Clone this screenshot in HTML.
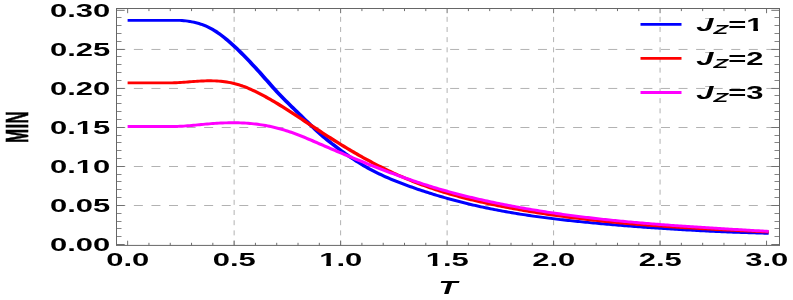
<!DOCTYPE html>
<html><head><meta charset="utf-8"><title>MIN vs T</title>
<style>
html,body{margin:0;padding:0;background:#fff;}
svg{display:block;}
text{font-family:"Liberation Sans",sans-serif;font-weight:bold;fill:#000;font-kerning:none;}
</style></head><body>
<svg width="793" height="300" viewBox="0 0 793 300">
<rect x="0" y="0" width="793" height="300" fill="#ffffff"/>
<g stroke="#b2b2b2" stroke-width="1" fill="none">
<line x1="116.3" y1="205.50" x2="779.5" y2="205.50" stroke-dasharray="9 8.57"/>
<line x1="116.3" y1="166.50" x2="779.5" y2="166.50" stroke-dasharray="9 8.57"/>
<line x1="116.3" y1="127.50" x2="779.5" y2="127.50" stroke-dasharray="9 8.57"/>
<line x1="116.3" y1="88.45" x2="779.5" y2="88.45" stroke-dasharray="9 8.57"/>
<line x1="116.3" y1="49.45" x2="779.5" y2="49.45" stroke-dasharray="9 8.57"/>
<line x1="234.13" y1="16.8" x2="234.13" y2="245.4" stroke-dasharray="5 5.17"/>
<line x1="340.62" y1="16.8" x2="340.62" y2="245.4" stroke-dasharray="5 5.17"/>
<line x1="447.11" y1="16.8" x2="447.11" y2="245.4" stroke-dasharray="5 5.17"/>
<line x1="553.59" y1="16.8" x2="553.59" y2="245.4" stroke-dasharray="5 5.17"/>
<line x1="660.07" y1="16.8" x2="660.07" y2="245.4" stroke-dasharray="5 5.17"/>
</g>
<g transform="scale(1.5,1)" fill="none" stroke-width="2.9" stroke-linejoin="round">
<path stroke="#0000ff" d="M85.07,20.40 L86.36,20.40 L87.66,20.40 L88.95,20.40 L90.24,20.40 L91.54,20.40 L92.83,20.40 L94.13,20.40 L95.42,20.40 L96.72,20.40 L98.01,20.40 L99.31,20.40 L100.60,20.40 L101.89,20.40 L103.19,20.40 L104.48,20.40 L105.78,20.40 L107.07,20.40 L108.37,20.40 L109.66,20.40 L110.96,20.40 L112.25,20.40 L113.54,20.40 L114.84,20.40 L116.13,20.40 L117.43,20.40 L118.72,20.40 L120.02,20.42 L121.31,20.56 L122.61,20.73 L123.90,20.94 L125.19,21.18 L126.49,21.47 L127.78,21.81 L129.08,22.20 L130.37,22.64 L131.67,23.14 L132.96,23.70 L134.25,24.33 L135.55,25.03 L136.84,25.80 L138.14,26.65 L139.43,27.58 L140.73,28.60 L142.02,29.70 L143.32,30.88 L144.61,32.14 L145.90,33.47 L147.20,34.88 L148.49,36.34 L149.79,37.88 L151.08,39.47 L152.38,41.11 L153.67,42.81 L154.97,44.55 L156.26,46.34 L157.55,48.17 L158.85,50.03 L160.14,51.93 L161.44,53.86 L162.73,55.81 L164.03,57.80 L165.32,59.81 L166.62,61.84 L167.91,63.90 L169.20,65.99 L170.50,68.09 L171.79,70.22 L173.09,72.37 L174.38,74.54 L175.68,76.72 L176.97,78.92 L178.27,81.11 L179.56,83.30 L180.85,85.48 L182.15,87.64 L183.44,89.78 L184.74,91.89 L186.03,93.96 L187.33,95.99 L188.62,97.98 L189.92,99.94 L191.21,101.87 L192.50,103.79 L193.80,105.70 L195.09,107.60 L196.39,109.50 L197.68,111.40 L198.98,113.30 L200.27,115.19 L201.57,117.07 L202.86,118.95 L204.15,120.83 L205.45,122.70 L206.74,124.57 L208.04,126.42 L209.33,128.27 L210.63,130.09 L211.92,131.89 L213.21,133.64 L214.51,135.35 L215.80,137.02 L217.10,138.65 L218.39,140.24 L219.69,141.79 L220.98,143.32 L222.28,144.82 L223.57,146.29 L224.86,147.75 L226.16,149.19 L227.45,150.62 L228.75,152.03 L230.04,153.42 L231.34,154.80 L232.63,156.16 L233.93,157.49 L235.22,158.80 L236.51,160.08 L237.81,161.33 L239.10,162.56 L240.40,163.76 L241.69,164.94 L242.99,166.09 L244.28,167.20 L245.58,168.30 L246.87,169.36 L248.16,170.39 L249.46,171.40 L250.75,172.38 L252.05,173.34 L253.34,174.27 L254.64,175.18 L255.93,176.07 L257.23,176.94 L258.52,177.78 L259.81,178.62 L261.11,179.43 L262.40,180.23 L263.70,181.01 L264.99,181.79 L266.29,182.55 L267.58,183.30 L268.88,184.03 L270.17,184.76 L271.46,185.48 L272.76,186.19 L274.05,186.89 L275.35,187.58 L276.64,188.27 L277.94,188.94 L279.23,189.60 L280.53,190.26 L281.82,190.90 L283.11,191.54 L284.41,192.17 L285.70,192.79 L287.00,193.41 L288.29,194.01 L289.59,194.61 L290.88,195.20 L292.18,195.78 L293.47,196.36 L294.76,196.92 L296.06,197.48 L297.35,198.03 L298.65,198.58 L299.94,199.12 L301.24,199.65 L302.53,200.17 L303.82,200.68 L305.12,201.19 L306.41,201.69 L307.71,202.19 L309.00,202.68 L310.30,203.16 L311.59,203.63 L312.89,204.10 L314.18,204.56 L315.47,205.01 L316.77,205.46 L318.06,205.90 L319.36,206.33 L320.65,206.76 L321.95,207.18 L323.24,207.59 L324.54,208.00 L325.83,208.40 L327.12,208.80 L328.42,209.19 L329.71,209.57 L331.01,209.95 L332.30,210.32 L333.60,210.69 L334.89,211.05 L336.19,211.40 L337.48,211.75 L338.77,212.10 L340.07,212.43 L341.36,212.77 L342.66,213.09 L343.95,213.42 L345.25,213.73 L346.54,214.04 L347.84,214.35 L349.13,214.65 L350.42,214.95 L351.72,215.24 L353.01,215.53 L354.31,215.81 L355.60,216.09 L356.90,216.37 L358.19,216.64 L359.49,216.90 L360.78,217.17 L362.07,217.42 L363.37,217.68 L364.66,217.93 L365.96,218.18 L367.25,218.42 L368.55,218.66 L369.84,218.89 L371.14,219.12 L372.43,219.35 L373.72,219.58 L375.02,219.80 L376.31,220.02 L377.61,220.24 L378.90,220.45 L380.20,220.66 L381.49,220.87 L382.79,221.07 L384.08,221.27 L385.37,221.47 L386.67,221.67 L387.96,221.86 L389.26,222.06 L390.55,222.25 L391.85,222.44 L393.14,222.62 L394.43,222.81 L395.73,222.99 L397.02,223.17 L398.32,223.35 L399.61,223.53 L400.91,223.70 L402.20,223.88 L403.50,224.05 L404.79,224.22 L406.08,224.39 L407.38,224.56 L408.67,224.72 L409.97,224.89 L411.26,225.05 L412.56,225.22 L413.85,225.38 L415.15,225.54 L416.44,225.69 L417.73,225.85 L419.03,226.01 L420.32,226.16 L421.62,226.31 L422.91,226.46 L424.21,226.61 L425.50,226.76 L426.80,226.90 L428.09,227.05 L429.38,227.19 L430.68,227.33 L431.97,227.47 L433.27,227.61 L434.56,227.75 L435.86,227.88 L437.15,228.02 L438.45,228.15 L439.74,228.28 L441.03,228.41 L442.33,228.54 L443.62,228.67 L444.92,228.79 L446.21,228.92 L447.51,229.04 L448.80,229.16 L450.10,229.28 L451.39,229.40 L452.68,229.51 L453.98,229.63 L455.27,229.74 L456.57,229.85 L457.86,229.96 L459.16,230.07 L460.45,230.18 L461.75,230.29 L463.04,230.39 L464.33,230.49 L465.63,230.60 L466.92,230.70 L468.22,230.80 L469.51,230.89 L470.81,230.99 L472.10,231.08 L473.39,231.18 L474.69,231.27 L475.98,231.36 L477.28,231.45 L478.57,231.53 L479.87,231.62 L481.16,231.71 L482.46,231.79 L483.75,231.87 L485.04,231.95 L486.34,232.03 L487.63,232.11 L488.93,232.18 L490.22,232.26 L491.52,232.33 L492.81,232.40 L494.11,232.47 L495.40,232.54 L496.69,232.60 L497.99,232.67 L499.28,232.73 L500.58,232.80 L501.87,232.86 L503.17,232.92 L504.46,232.98 L505.76,233.03 L507.05,233.09 L508.34,233.14 L509.64,233.20 L510.93,233.25 L512.47,233.31"/>
<path stroke="#ff0000" d="M85.07,82.90 L86.36,82.90 L87.66,82.90 L88.95,82.90 L90.24,82.90 L91.54,82.90 L92.83,82.90 L94.13,82.90 L95.42,82.90 L96.72,82.90 L98.01,82.90 L99.31,82.90 L100.60,82.90 L101.89,82.90 L103.19,82.90 L104.48,82.90 L105.78,82.90 L107.07,82.90 L108.37,82.90 L109.66,82.90 L110.96,82.90 L112.25,82.90 L113.54,82.88 L114.84,82.85 L116.13,82.79 L117.43,82.71 L118.72,82.62 L120.02,82.50 L121.31,82.36 L122.61,82.22 L123.90,82.09 L125.19,81.94 L126.49,81.80 L127.78,81.65 L129.08,81.51 L130.37,81.37 L131.67,81.24 L132.96,81.12 L134.25,81.02 L135.55,80.93 L136.84,80.86 L138.14,80.81 L139.43,80.79 L140.73,80.80 L142.02,80.83 L143.32,80.90 L144.61,81.00 L145.90,81.13 L147.20,81.30 L148.49,81.50 L149.79,81.74 L151.08,82.03 L152.38,82.35 L153.67,82.72 L154.97,83.13 L156.26,83.58 L157.55,84.09 L158.85,84.64 L160.14,85.24 L161.44,85.90 L162.73,86.60 L164.03,87.34 L165.32,88.13 L166.62,88.96 L167.91,89.83 L169.20,90.73 L170.50,91.67 L171.79,92.63 L173.09,93.62 L174.38,94.63 L175.68,95.67 L176.97,96.72 L178.27,97.80 L179.56,98.89 L180.85,100.01 L182.15,101.14 L183.44,102.29 L184.74,103.45 L186.03,104.63 L187.33,105.83 L188.62,107.03 L189.92,108.25 L191.21,109.48 L192.50,110.72 L193.80,111.97 L195.09,113.22 L196.39,114.49 L197.68,115.76 L198.98,117.03 L200.27,118.31 L201.57,119.59 L202.86,120.88 L204.15,122.17 L205.45,123.46 L206.74,124.74 L208.04,126.03 L209.33,127.32 L210.63,128.60 L211.92,129.88 L213.21,131.15 L214.51,132.42 L215.80,133.68 L217.10,134.93 L218.39,136.18 L219.69,137.42 L220.98,138.66 L222.28,139.88 L223.57,141.10 L224.86,142.31 L226.16,143.52 L227.45,144.71 L228.75,145.90 L230.04,147.08 L231.34,148.25 L232.63,149.41 L233.93,150.56 L235.22,151.70 L236.51,152.83 L237.81,153.95 L239.10,155.06 L240.40,156.16 L241.69,157.25 L242.99,158.32 L244.28,159.39 L245.58,160.45 L246.87,161.49 L248.16,162.52 L249.46,163.54 L250.75,164.54 L252.05,165.54 L253.34,166.52 L254.64,167.49 L255.93,168.45 L257.23,169.40 L258.52,170.33 L259.81,171.25 L261.11,172.17 L262.40,173.07 L263.70,173.95 L264.99,174.83 L266.29,175.69 L267.58,176.54 L268.88,177.38 L270.17,178.21 L271.46,179.03 L272.76,179.83 L274.05,180.63 L275.35,181.41 L276.64,182.18 L277.94,182.94 L279.23,183.68 L280.53,184.42 L281.82,185.14 L283.11,185.85 L284.41,186.55 L285.70,187.24 L287.00,187.92 L288.29,188.58 L289.59,189.24 L290.88,189.88 L292.18,190.51 L293.47,191.13 L294.76,191.74 L296.06,192.35 L297.35,192.94 L298.65,193.52 L299.94,194.09 L301.24,194.65 L302.53,195.20 L303.82,195.74 L305.12,196.28 L306.41,196.80 L307.71,197.32 L309.00,197.83 L310.30,198.33 L311.59,198.82 L312.89,199.31 L314.18,199.78 L315.47,200.25 L316.77,200.71 L318.06,201.17 L319.36,201.62 L320.65,202.06 L321.95,202.50 L323.24,202.93 L324.54,203.35 L325.83,203.77 L327.12,204.18 L328.42,204.59 L329.71,204.99 L331.01,205.39 L332.30,205.78 L333.60,206.17 L334.89,206.55 L336.19,206.93 L337.48,207.31 L338.77,207.68 L340.07,208.04 L341.36,208.41 L342.66,208.76 L343.95,209.12 L345.25,209.47 L346.54,209.81 L347.84,210.15 L349.13,210.49 L350.42,210.82 L351.72,211.15 L353.01,211.48 L354.31,211.80 L355.60,212.12 L356.90,212.43 L358.19,212.74 L359.49,213.05 L360.78,213.35 L362.07,213.65 L363.37,213.94 L364.66,214.23 L365.96,214.52 L367.25,214.81 L368.55,215.09 L369.84,215.36 L371.14,215.64 L372.43,215.91 L373.72,216.18 L375.02,216.44 L376.31,216.70 L377.61,216.96 L378.90,217.21 L380.20,217.46 L381.49,217.71 L382.79,217.95 L384.08,218.19 L385.37,218.43 L386.67,218.66 L387.96,218.90 L389.26,219.12 L390.55,219.35 L391.85,219.57 L393.14,219.79 L394.43,220.01 L395.73,220.22 L397.02,220.43 L398.32,220.64 L399.61,220.85 L400.91,221.05 L402.20,221.25 L403.50,221.45 L404.79,221.64 L406.08,221.84 L407.38,222.03 L408.67,222.21 L409.97,222.40 L411.26,222.58 L412.56,222.76 L413.85,222.94 L415.15,223.12 L416.44,223.29 L417.73,223.46 L419.03,223.63 L420.32,223.79 L421.62,223.96 L422.91,224.12 L424.21,224.28 L425.50,224.44 L426.80,224.59 L428.09,224.75 L429.38,224.90 L430.68,225.05 L431.97,225.20 L433.27,225.34 L434.56,225.49 L435.86,225.63 L437.15,225.77 L438.45,225.91 L439.74,226.05 L441.03,226.18 L442.33,226.32 L443.62,226.45 L444.92,226.58 L446.21,226.71 L447.51,226.84 L448.80,226.96 L450.10,227.09 L451.39,227.21 L452.68,227.33 L453.98,227.45 L455.27,227.57 L456.57,227.69 L457.86,227.81 L459.16,227.92 L460.45,228.03 L461.75,228.15 L463.04,228.26 L464.33,228.37 L465.63,228.48 L466.92,228.59 L468.22,228.70 L469.51,228.80 L470.81,228.91 L472.10,229.01 L473.39,229.12 L474.69,229.22 L475.98,229.33 L477.28,229.43 L478.57,229.53 L479.87,229.63 L481.16,229.73 L482.46,229.83 L483.75,229.93 L485.04,230.02 L486.34,230.12 L487.63,230.22 L488.93,230.31 L490.22,230.41 L491.52,230.51 L492.81,230.60 L494.11,230.70 L495.40,230.79 L496.69,230.89 L497.99,230.98 L499.28,231.07 L500.58,231.17 L501.87,231.26 L503.17,231.36 L504.46,231.45 L505.76,231.54 L507.05,231.64 L508.34,231.73 L509.64,231.82 L510.93,231.92 L512.47,232.03"/>
<path stroke="#ff00ff" d="M85.07,126.50 L86.36,126.50 L87.66,126.50 L88.95,126.50 L90.24,126.50 L91.54,126.50 L92.83,126.50 L94.13,126.50 L95.42,126.50 L96.72,126.50 L98.01,126.50 L99.31,126.50 L100.60,126.50 L101.89,126.50 L103.19,126.50 L104.48,126.50 L105.78,126.50 L107.07,126.50 L108.37,126.50 L109.66,126.50 L110.96,126.50 L112.25,126.50 L113.54,126.50 L114.84,126.50 L116.13,126.50 L117.43,126.47 L118.72,126.41 L120.02,126.31 L121.31,126.20 L122.61,126.07 L123.90,125.93 L125.19,125.78 L126.49,125.61 L127.78,125.44 L129.08,125.27 L130.37,125.09 L131.67,124.90 L132.96,124.71 L134.25,124.53 L135.55,124.34 L136.84,124.16 L138.14,123.99 L139.43,123.82 L140.73,123.67 L142.02,123.52 L143.32,123.38 L144.61,123.26 L145.90,123.15 L147.20,123.05 L148.49,122.96 L149.79,122.89 L151.08,122.83 L152.38,122.79 L153.67,122.76 L154.97,122.75 L156.26,122.76 L157.55,122.78 L158.85,122.82 L160.14,122.87 L161.44,122.95 L162.73,123.05 L164.03,123.16 L165.32,123.29 L166.62,123.45 L167.91,123.63 L169.20,123.83 L170.50,124.05 L171.79,124.29 L173.09,124.56 L174.38,124.85 L175.68,125.17 L176.97,125.51 L178.27,125.87 L179.56,126.26 L180.85,126.67 L182.15,127.11 L183.44,127.57 L184.74,128.05 L186.03,128.56 L187.33,129.10 L188.62,129.66 L189.92,130.24 L191.21,130.85 L192.50,131.48 L193.80,132.14 L195.09,132.82 L196.39,133.53 L197.68,134.25 L198.98,134.99 L200.27,135.76 L201.57,136.53 L202.86,137.32 L204.15,138.13 L205.45,138.94 L206.74,139.76 L208.04,140.59 L209.33,141.42 L210.63,142.26 L211.92,143.10 L213.21,143.94 L214.51,144.78 L215.80,145.61 L217.10,146.45 L218.39,147.28 L219.69,148.11 L220.98,148.94 L222.28,149.76 L223.57,150.59 L224.86,151.41 L226.16,152.23 L227.45,153.04 L228.75,153.86 L230.04,154.67 L231.34,155.47 L232.63,156.28 L233.93,157.08 L235.22,157.88 L236.51,158.68 L237.81,159.47 L239.10,160.26 L240.40,161.05 L241.69,161.83 L242.99,162.61 L244.28,163.39 L245.58,164.16 L246.87,164.93 L248.16,165.69 L249.46,166.45 L250.75,167.21 L252.05,167.97 L253.34,168.72 L254.64,169.46 L255.93,170.20 L257.23,170.94 L258.52,171.67 L259.81,172.40 L261.11,173.12 L262.40,173.84 L263.70,174.55 L264.99,175.26 L266.29,175.96 L267.58,176.66 L268.88,177.35 L270.17,178.03 L271.46,178.71 L272.76,179.39 L274.05,180.05 L275.35,180.71 L276.64,181.37 L277.94,182.02 L279.23,182.66 L280.53,183.30 L281.82,183.93 L283.11,184.55 L284.41,185.16 L285.70,185.77 L287.00,186.37 L288.29,186.97 L289.59,187.56 L290.88,188.14 L292.18,188.71 L293.47,189.27 L294.76,189.83 L296.06,190.39 L297.35,190.93 L298.65,191.47 L299.94,192.00 L301.24,192.53 L302.53,193.05 L303.82,193.56 L305.12,194.07 L306.41,194.57 L307.71,195.07 L309.00,195.56 L310.30,196.04 L311.59,196.52 L312.89,196.99 L314.18,197.46 L315.47,197.92 L316.77,198.38 L318.06,198.83 L319.36,199.27 L320.65,199.71 L321.95,200.15 L323.24,200.58 L324.54,201.00 L325.83,201.42 L327.12,201.84 L328.42,202.25 L329.71,202.65 L331.01,203.06 L332.30,203.45 L333.60,203.85 L334.89,204.23 L336.19,204.62 L337.48,205.00 L338.77,205.37 L340.07,205.74 L341.36,206.11 L342.66,206.47 L343.95,206.83 L345.25,207.19 L346.54,207.54 L347.84,207.89 L349.13,208.23 L350.42,208.57 L351.72,208.90 L353.01,209.23 L354.31,209.56 L355.60,209.88 L356.90,210.20 L358.19,210.52 L359.49,210.83 L360.78,211.14 L362.07,211.45 L363.37,211.75 L364.66,212.05 L365.96,212.34 L367.25,212.63 L368.55,212.92 L369.84,213.21 L371.14,213.49 L372.43,213.77 L373.72,214.04 L375.02,214.31 L376.31,214.58 L377.61,214.84 L378.90,215.10 L380.20,215.36 L381.49,215.62 L382.79,215.87 L384.08,216.12 L385.37,216.37 L386.67,216.61 L387.96,216.85 L389.26,217.09 L390.55,217.32 L391.85,217.55 L393.14,217.78 L394.43,218.01 L395.73,218.23 L397.02,218.45 L398.32,218.67 L399.61,218.89 L400.91,219.10 L402.20,219.31 L403.50,219.52 L404.79,219.72 L406.08,219.92 L407.38,220.12 L408.67,220.32 L409.97,220.52 L411.26,220.71 L412.56,220.90 L413.85,221.09 L415.15,221.28 L416.44,221.46 L417.73,221.64 L419.03,221.82 L420.32,222.00 L421.62,222.18 L422.91,222.35 L424.21,222.52 L425.50,222.69 L426.80,222.86 L428.09,223.03 L429.38,223.19 L430.68,223.35 L431.97,223.51 L433.27,223.67 L434.56,223.83 L435.86,223.99 L437.15,224.14 L438.45,224.29 L439.74,224.44 L441.03,224.59 L442.33,224.74 L443.62,224.89 L444.92,225.03 L446.21,225.17 L447.51,225.32 L448.80,225.46 L450.10,225.59 L451.39,225.73 L452.68,225.87 L453.98,226.00 L455.27,226.14 L456.57,226.27 L457.86,226.40 L459.16,226.53 L460.45,226.66 L461.75,226.79 L463.04,226.92 L464.33,227.05 L465.63,227.17 L466.92,227.30 L468.22,227.42 L469.51,227.55 L470.81,227.67 L472.10,227.79 L473.39,227.91 L474.69,228.03 L475.98,228.15 L477.28,228.27 L478.57,228.39 L479.87,228.51 L481.16,228.63 L482.46,228.74 L483.75,228.86 L485.04,228.98 L486.34,229.09 L487.63,229.21 L488.93,229.32 L490.22,229.44 L491.52,229.55 L492.81,229.67 L494.11,229.78 L495.40,229.90 L496.69,230.01 L497.99,230.13 L499.28,230.24 L500.58,230.35 L501.87,230.47 L503.17,230.58 L504.46,230.70 L505.76,230.81 L507.05,230.93 L508.34,231.04 L509.64,231.16 L510.93,231.27 L512.47,231.41"/>
</g>
<g stroke="#666666" stroke-width="1" fill="none">
<line stroke="#707070" x1="127.65" y1="245.4" x2="127.65" y2="240.70000000000002"/><line stroke="#707070" x1="127.65" y1="8.5" x2="127.65" y2="13.2"/>
<line stroke="#6e6e6e" x1="148.95" y1="245.4" x2="148.95" y2="242.8"/><line stroke="#6e6e6e" x1="148.95" y1="8.5" x2="148.95" y2="11.1"/>
<line stroke="#6e6e6e" x1="170.24" y1="245.4" x2="170.24" y2="242.8"/><line stroke="#6e6e6e" x1="170.24" y1="8.5" x2="170.24" y2="11.1"/>
<line stroke="#6e6e6e" x1="191.54" y1="245.4" x2="191.54" y2="242.8"/><line stroke="#6e6e6e" x1="191.54" y1="8.5" x2="191.54" y2="11.1"/>
<line stroke="#6e6e6e" x1="212.84" y1="245.4" x2="212.84" y2="242.8"/><line stroke="#6e6e6e" x1="212.84" y1="8.5" x2="212.84" y2="11.1"/>
<line stroke="#707070" x1="234.13" y1="245.4" x2="234.13" y2="240.70000000000002"/><line stroke="#707070" x1="234.13" y1="8.5" x2="234.13" y2="13.2"/>
<line stroke="#6e6e6e" x1="255.43" y1="245.4" x2="255.43" y2="242.8"/><line stroke="#6e6e6e" x1="255.43" y1="8.5" x2="255.43" y2="11.1"/>
<line stroke="#6e6e6e" x1="276.73" y1="245.4" x2="276.73" y2="242.8"/><line stroke="#6e6e6e" x1="276.73" y1="8.5" x2="276.73" y2="11.1"/>
<line stroke="#6e6e6e" x1="298.03" y1="245.4" x2="298.03" y2="242.8"/><line stroke="#6e6e6e" x1="298.03" y1="8.5" x2="298.03" y2="11.1"/>
<line stroke="#6e6e6e" x1="319.32" y1="245.4" x2="319.32" y2="242.8"/><line stroke="#6e6e6e" x1="319.32" y1="8.5" x2="319.32" y2="11.1"/>
<line stroke="#707070" x1="340.62" y1="245.4" x2="340.62" y2="240.70000000000002"/><line stroke="#707070" x1="340.62" y1="8.5" x2="340.62" y2="13.2"/>
<line stroke="#6e6e6e" x1="361.92" y1="245.4" x2="361.92" y2="242.8"/><line stroke="#6e6e6e" x1="361.92" y1="8.5" x2="361.92" y2="11.1"/>
<line stroke="#6e6e6e" x1="383.21" y1="245.4" x2="383.21" y2="242.8"/><line stroke="#6e6e6e" x1="383.21" y1="8.5" x2="383.21" y2="11.1"/>
<line stroke="#6e6e6e" x1="404.51" y1="245.4" x2="404.51" y2="242.8"/><line stroke="#6e6e6e" x1="404.51" y1="8.5" x2="404.51" y2="11.1"/>
<line stroke="#6e6e6e" x1="425.81" y1="245.4" x2="425.81" y2="242.8"/><line stroke="#6e6e6e" x1="425.81" y1="8.5" x2="425.81" y2="11.1"/>
<line stroke="#707070" x1="447.11" y1="245.4" x2="447.11" y2="240.70000000000002"/><line stroke="#707070" x1="447.11" y1="8.5" x2="447.11" y2="13.2"/>
<line stroke="#6e6e6e" x1="468.40" y1="245.4" x2="468.40" y2="242.8"/><line stroke="#6e6e6e" x1="468.40" y1="8.5" x2="468.40" y2="11.1"/>
<line stroke="#6e6e6e" x1="489.70" y1="245.4" x2="489.70" y2="242.8"/><line stroke="#6e6e6e" x1="489.70" y1="8.5" x2="489.70" y2="11.1"/>
<line stroke="#6e6e6e" x1="511.00" y1="245.4" x2="511.00" y2="242.8"/><line stroke="#6e6e6e" x1="511.00" y1="8.5" x2="511.00" y2="11.1"/>
<line stroke="#6e6e6e" x1="532.29" y1="245.4" x2="532.29" y2="242.8"/><line stroke="#6e6e6e" x1="532.29" y1="8.5" x2="532.29" y2="11.1"/>
<line stroke="#707070" x1="553.59" y1="245.4" x2="553.59" y2="240.70000000000002"/><line stroke="#707070" x1="553.59" y1="8.5" x2="553.59" y2="13.2"/>
<line stroke="#6e6e6e" x1="574.89" y1="245.4" x2="574.89" y2="242.8"/><line stroke="#6e6e6e" x1="574.89" y1="8.5" x2="574.89" y2="11.1"/>
<line stroke="#6e6e6e" x1="596.18" y1="245.4" x2="596.18" y2="242.8"/><line stroke="#6e6e6e" x1="596.18" y1="8.5" x2="596.18" y2="11.1"/>
<line stroke="#6e6e6e" x1="617.48" y1="245.4" x2="617.48" y2="242.8"/><line stroke="#6e6e6e" x1="617.48" y1="8.5" x2="617.48" y2="11.1"/>
<line stroke="#6e6e6e" x1="638.78" y1="245.4" x2="638.78" y2="242.8"/><line stroke="#6e6e6e" x1="638.78" y1="8.5" x2="638.78" y2="11.1"/>
<line stroke="#707070" x1="660.07" y1="245.4" x2="660.07" y2="240.70000000000002"/><line stroke="#707070" x1="660.07" y1="8.5" x2="660.07" y2="13.2"/>
<line stroke="#6e6e6e" x1="681.37" y1="245.4" x2="681.37" y2="242.8"/><line stroke="#6e6e6e" x1="681.37" y1="8.5" x2="681.37" y2="11.1"/>
<line stroke="#6e6e6e" x1="702.67" y1="245.4" x2="702.67" y2="242.8"/><line stroke="#6e6e6e" x1="702.67" y1="8.5" x2="702.67" y2="11.1"/>
<line stroke="#6e6e6e" x1="723.97" y1="245.4" x2="723.97" y2="242.8"/><line stroke="#6e6e6e" x1="723.97" y1="8.5" x2="723.97" y2="11.1"/>
<line stroke="#6e6e6e" x1="745.26" y1="245.4" x2="745.26" y2="242.8"/><line stroke="#6e6e6e" x1="745.26" y1="8.5" x2="745.26" y2="11.1"/>
<line stroke="#707070" x1="766.56" y1="245.4" x2="766.56" y2="240.70000000000002"/><line stroke="#707070" x1="766.56" y1="8.5" x2="766.56" y2="13.2"/>
<line stroke="#707070" x1="116.5" y1="244.50" x2="124.7" y2="244.50"/><line stroke="#707070" x1="779.5" y1="244.50" x2="771.3" y2="244.50"/>
<line stroke="#858585" x1="116.5" y1="236.50" x2="121.5" y2="236.50"/><line stroke="#858585" x1="779.5" y1="236.50" x2="774.5" y2="236.50"/>
<line stroke="#858585" x1="116.5" y1="228.50" x2="121.5" y2="228.50"/><line stroke="#858585" x1="779.5" y1="228.50" x2="774.5" y2="228.50"/>
<line stroke="#858585" x1="116.5" y1="221.50" x2="121.5" y2="221.50"/><line stroke="#858585" x1="779.5" y1="221.50" x2="774.5" y2="221.50"/>
<line stroke="#858585" x1="116.5" y1="213.50" x2="121.5" y2="213.50"/><line stroke="#858585" x1="779.5" y1="213.50" x2="774.5" y2="213.50"/>
<line stroke="#707070" x1="116.5" y1="205.50" x2="124.7" y2="205.50"/><line stroke="#707070" x1="779.5" y1="205.50" x2="771.3" y2="205.50"/>
<line stroke="#858585" x1="116.5" y1="197.50" x2="121.5" y2="197.50"/><line stroke="#858585" x1="779.5" y1="197.50" x2="774.5" y2="197.50"/>
<line stroke="#858585" x1="116.5" y1="189.50" x2="121.5" y2="189.50"/><line stroke="#858585" x1="779.5" y1="189.50" x2="774.5" y2="189.50"/>
<line stroke="#858585" x1="116.5" y1="181.50" x2="121.5" y2="181.50"/><line stroke="#858585" x1="779.5" y1="181.50" x2="774.5" y2="181.50"/>
<line stroke="#858585" x1="116.5" y1="174.50" x2="121.5" y2="174.50"/><line stroke="#858585" x1="779.5" y1="174.50" x2="774.5" y2="174.50"/>
<line stroke="#707070" x1="116.5" y1="166.50" x2="124.7" y2="166.50"/><line stroke="#707070" x1="779.5" y1="166.50" x2="771.3" y2="166.50"/>
<line stroke="#858585" x1="116.5" y1="158.50" x2="121.5" y2="158.50"/><line stroke="#858585" x1="779.5" y1="158.50" x2="774.5" y2="158.50"/>
<line stroke="#858585" x1="116.5" y1="150.50" x2="121.5" y2="150.50"/><line stroke="#858585" x1="779.5" y1="150.50" x2="774.5" y2="150.50"/>
<line stroke="#858585" x1="116.5" y1="142.50" x2="121.5" y2="142.50"/><line stroke="#858585" x1="779.5" y1="142.50" x2="774.5" y2="142.50"/>
<line stroke="#858585" x1="116.5" y1="135.50" x2="121.5" y2="135.50"/><line stroke="#858585" x1="779.5" y1="135.50" x2="774.5" y2="135.50"/>
<line stroke="#707070" x1="116.5" y1="127.50" x2="124.7" y2="127.50"/><line stroke="#707070" x1="779.5" y1="127.50" x2="771.3" y2="127.50"/>
<line stroke="#858585" x1="116.5" y1="119.50" x2="121.5" y2="119.50"/><line stroke="#858585" x1="779.5" y1="119.50" x2="774.5" y2="119.50"/>
<line stroke="#858585" x1="116.5" y1="111.50" x2="121.5" y2="111.50"/><line stroke="#858585" x1="779.5" y1="111.50" x2="774.5" y2="111.50"/>
<line stroke="#858585" x1="116.5" y1="103.50" x2="121.5" y2="103.50"/><line stroke="#858585" x1="779.5" y1="103.50" x2="774.5" y2="103.50"/>
<line stroke="#858585" x1="116.5" y1="95.50" x2="121.5" y2="95.50"/><line stroke="#858585" x1="779.5" y1="95.50" x2="774.5" y2="95.50"/>
<line stroke="#707070" x1="116.5" y1="88.45" x2="124.7" y2="88.45"/><line stroke="#707070" x1="779.5" y1="88.45" x2="771.3" y2="88.45"/>
<line stroke="#858585" x1="116.5" y1="80.50" x2="121.5" y2="80.50"/><line stroke="#858585" x1="779.5" y1="80.50" x2="774.5" y2="80.50"/>
<line stroke="#858585" x1="116.5" y1="72.50" x2="121.5" y2="72.50"/><line stroke="#858585" x1="779.5" y1="72.50" x2="774.5" y2="72.50"/>
<line stroke="#858585" x1="116.5" y1="64.50" x2="121.5" y2="64.50"/><line stroke="#858585" x1="779.5" y1="64.50" x2="774.5" y2="64.50"/>
<line stroke="#858585" x1="116.5" y1="56.50" x2="121.5" y2="56.50"/><line stroke="#858585" x1="779.5" y1="56.50" x2="774.5" y2="56.50"/>
<line stroke="#707070" x1="116.5" y1="49.45" x2="124.7" y2="49.45"/><line stroke="#707070" x1="779.5" y1="49.45" x2="771.3" y2="49.45"/>
<line stroke="#858585" x1="116.5" y1="41.50" x2="121.5" y2="41.50"/><line stroke="#858585" x1="779.5" y1="41.50" x2="774.5" y2="41.50"/>
<line stroke="#858585" x1="116.5" y1="33.50" x2="121.5" y2="33.50"/><line stroke="#858585" x1="779.5" y1="33.50" x2="774.5" y2="33.50"/>
<line stroke="#858585" x1="116.5" y1="25.50" x2="121.5" y2="25.50"/><line stroke="#858585" x1="779.5" y1="25.50" x2="774.5" y2="25.50"/>
<line stroke="#858585" x1="116.5" y1="17.50" x2="121.5" y2="17.50"/><line stroke="#858585" x1="779.5" y1="17.50" x2="774.5" y2="17.50"/>
<line stroke="#707070" x1="116.5" y1="10.30" x2="124.7" y2="10.30"/><line stroke="#707070" x1="779.5" y1="10.30" x2="771.3" y2="10.30"/>
<rect x="116.5" y="8.5" width="663.0" height="236.9"/>
</g>
<line x1="640.5" y1="24.3" x2="681.5" y2="24.3" stroke="#0000ff" stroke-width="2.8"/>
<line x1="640.5" y1="58.4" x2="681.5" y2="58.4" stroke="#ff0000" stroke-width="2.8"/>
<line x1="640.5" y1="92.5" x2="681.5" y2="92.5" stroke="#ff00ff" stroke-width="2.8"/>
<defs>
<clipPath id="k0"><path clip-rule="evenodd" d="M-120,-40H120V20H-120ZM-18.953,-1.846H-15.500V0.513H-18.953ZM-12.860,-1.846H-9.639V0.513H-12.860Z"/></clipPath>
<clipPath id="k1"><path clip-rule="evenodd" d="M-120,-40H120V20H-120ZM-18.953,-1.846H-15.500V0.513H-18.953ZM-12.860,-1.846H-9.639V0.513H-12.860Z"/></clipPath>
<clipPath id="k2"><path clip-rule="evenodd" d="M-120,-40H120V20H-120ZM-11.651,-1.846H-8.199V0.513H-11.651ZM-5.558,-1.846H-2.337V0.513H-5.558Z"/></clipPath>
<clipPath id="k3"><path clip-rule="evenodd" d="M-120,-40H120V20H-120ZM-11.651,-1.846H-8.199V0.513H-11.651ZM-5.558,-1.846H-2.337V0.513H-5.558Z"/></clipPath>
<clipPath id="k4"><path clip-rule="evenodd" d="M-120,-40H120V20H-120ZM4.102,-9.980L7.007,-9.980L7.507,-12.561L4.102,-12.561ZM28.773,-1.846H32.225V0.513H28.773ZM34.865,-1.846H38.086V0.513H34.865Z"/></clipPath>
<clipPath id="k5"><path clip-rule="evenodd" d="M-120,-40H120V20H-120ZM4.102,-9.980L7.007,-9.980L7.507,-12.561L4.102,-12.561Z"/></clipPath>
<clipPath id="k6"><path clip-rule="evenodd" d="M-120,-40H120V20H-120ZM4.102,-9.980L7.007,-9.980L7.507,-12.561L4.102,-12.561Z"/></clipPath>
</defs>
<g style="will-change:transform;filter:grayscale(1)">
<text transform="translate(110.3,250.6) scale(1.77,1)" font-size="17.5" text-anchor="end" >0.00</text>
<text transform="translate(110.3,211.6) scale(1.77,1)" font-size="17.5" text-anchor="end" >0.05</text>
<text transform="translate(110.3,172.6) scale(1.77,1)" font-size="17.5" text-anchor="end" clip-path="url(#k0)" >0.10</text>
<text transform="translate(110.3,133.6) scale(1.77,1)" font-size="17.5" text-anchor="end" clip-path="url(#k1)" >0.15</text>
<text transform="translate(110.3,94.55) scale(1.77,1)" font-size="17.5" text-anchor="end" >0.20</text>
<text transform="translate(110.3,55.55) scale(1.77,1)" font-size="17.5" text-anchor="end" >0.25</text>
<text transform="translate(110.3,16.9) scale(1.77,1)" font-size="17.5" text-anchor="end" >0.30</text>
<text transform="translate(127.8,265.8) scale(1.77,1)" font-size="17.5" text-anchor="middle" >0.0</text>
<text transform="translate(234.29,265.8) scale(1.77,1)" font-size="17.5" text-anchor="middle" >0.5</text>
<text transform="translate(340.77,265.8) scale(1.77,1)" font-size="17.5" text-anchor="middle" clip-path="url(#k2)" >1.0</text>
<text transform="translate(447.25,265.8) scale(1.77,1)" font-size="17.5" text-anchor="middle" clip-path="url(#k3)" >1.5</text>
<text transform="translate(553.74,265.8) scale(1.77,1)" font-size="17.5" text-anchor="middle" >2.0</text>
<text transform="translate(660.22,265.8) scale(1.77,1)" font-size="17.5" text-anchor="middle" >2.5</text>
<text transform="translate(766.71,265.8) scale(1.77,1)" font-size="17.5" text-anchor="middle" >3.0</text>
<text transform="translate(448.0,294.2) scale(1.77,1)" font-size="17.5" text-anchor="middle" font-style="italic">T</text>
<text transform="translate(27.5,126.9) rotate(-90) scale(1,1.80)" font-size="17" text-anchor="middle" letter-spacing="0.3" stroke="#000" stroke-width="0.35">MIN</text>
<text transform="translate(696.3,30.700000000000003) scale(1.77,1)" font-size="17.5" clip-path="url(#k4)"><tspan font-style="italic">J</tspan><tspan font-style="italic" font-size="13.6" dy="3.0">Z</tspan><tspan dy="-3.0">=1</tspan></text>
<text transform="translate(696.3,64.8) scale(1.77,1)" font-size="17.5" clip-path="url(#k5)"><tspan font-style="italic">J</tspan><tspan font-style="italic" font-size="13.6" dy="3.0">Z</tspan><tspan dy="-3.0">=2</tspan></text>
<text transform="translate(696.3,98.9) scale(1.77,1)" font-size="17.5" clip-path="url(#k6)"><tspan font-style="italic">J</tspan><tspan font-style="italic" font-size="13.6" dy="3.0">Z</tspan><tspan dy="-3.0">=3</tspan></text>
</g>
</svg>
</body></html>
